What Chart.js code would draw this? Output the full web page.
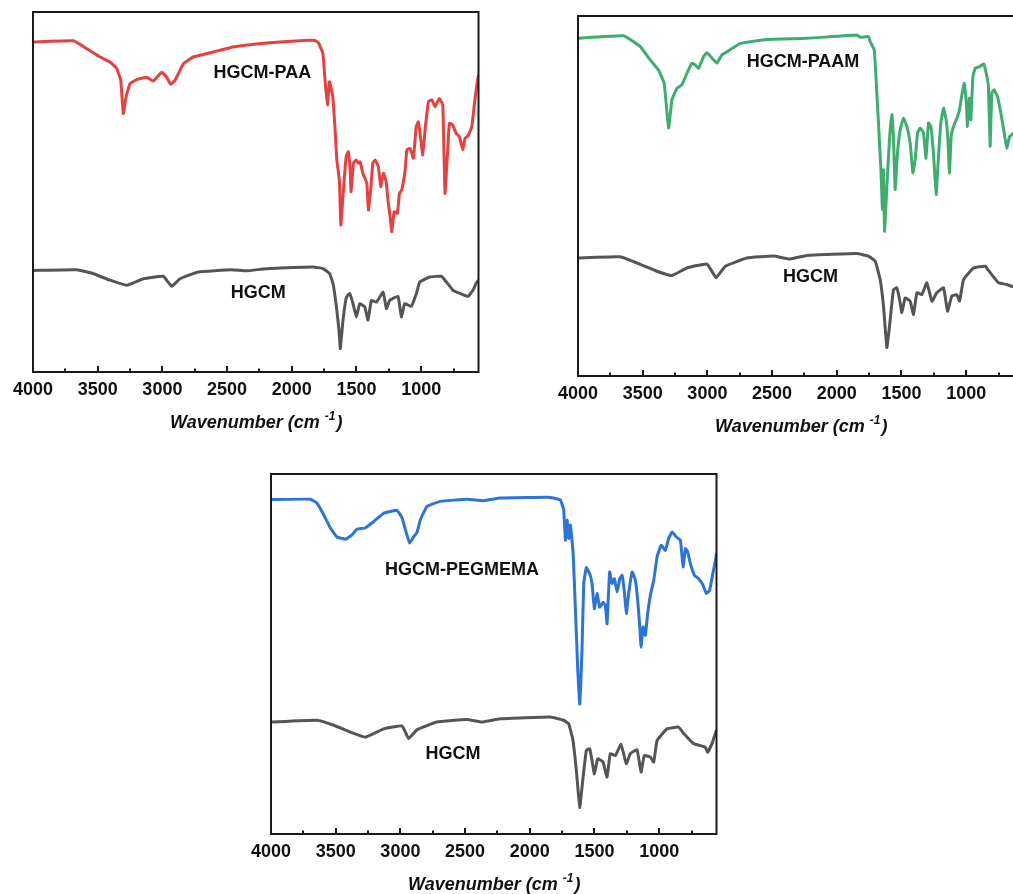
<!DOCTYPE html>
<html><head><meta charset="utf-8">
<script src="https://cdn.jsdelivr.net/npm/chart.js@4.4.0/dist/chart.umd.min.js"></script>
<style>
html,body{margin:0;padding:0;background:#fff;width:1013px;height:894px;overflow:hidden;position:relative;}
.p{position:absolute;width:500px;height:450px;}
</style></head><body>
<div class="p" style="left:0px;top:0px"><canvas id="c1" width="500" height="450"></canvas></div>
<div class="p" style="left:545px;top:4px"><canvas id="c2" width="500" height="450"></canvas></div>
<div class="p" style="left:238px;top:462px"><canvas id="c3" width="500" height="450"></canvas></div>
<script>
// x-axis tick labels (wavenumber, cm-1)
const xTicks = [4000, 3500, 3000, 2500, 2000, 1500, 1000];
const xMinor = [3750, 3250, 2750, 2250, 1750, 1250, 750];

// Panel 1: HGCM-PAA
const wnPAA = [4000,3687,3584,3482,3405,3353,3322,3302,3281,3250,3199,3122,3070,3006,2967,2936,2903,2838,2761,2607,2453,2195,1938,1822,1795,1760,1743,1725,1709,1696,1683,1665,1652,1632,1621,1601,1580,1563,1549,1542,1524,1503,1485,1472,1451,1420,1408,1390,1374,1356,1331,1312,1292,1271,1254,1240,1227,1209,1184,1168,1150,1124,1111,1086,1060,1039,1022,1009,988,970,944,918,893,860,833,816,798,782,756,730,705,679,661,635,609,591,570,557];
const tPAA  = [91.7,92.0,89.8,87.5,86.1,84.3,81.0,71.8,76.4,80.1,81.2,81.9,80.8,83.3,81.9,79.9,81.0,85.6,87.5,88.9,90.3,91.4,92.0,92.1,91.5,88.5,81.1,74.2,80.6,78.8,76.5,67.2,58.9,53.3,40.8,50.6,59.8,61.2,56.1,50.1,58.0,58.9,58.0,58.4,55.2,52.4,45.0,50.6,58.0,58.9,57.0,51.5,55.2,52.9,46.9,43.1,39.0,44.5,44.1,49.6,50.6,56.1,61.7,62.1,59.4,68.1,69.5,66.3,60.3,67.2,75.1,75.6,73.7,76.0,74.2,49.6,59.8,69.1,68.6,66.3,65.4,61.8,64.9,65.8,68.1,73.7,79.7,82.5];
const wnHGCM1 = [4000,3662,3533,3405,3276,3148,2993,2928,2864,2724,2467,2350,2196,1835,1758,1707,1681,1655,1635,1625,1604,1578,1552,1527,1501,1475,1436,1411,1385,1346,1294,1269,1243,1179,1153,1127,1076,1037,1011,934,844,805,754,703,638,600,574,557];
const tHGCM1  = [28.2,28.4,27.3,25.5,24.1,25.9,26.6,23.8,25.9,27.8,28.4,28.1,28.7,29.2,28.7,27.3,24.5,18.1,11.6,6.5,14.4,20.8,21.8,19.0,15.3,19.0,18.1,14.4,19.9,19.4,22.2,17.6,19.9,21.0,15.3,19.0,18.2,21.8,25.0,26.4,26.6,25.0,22.7,21.9,21.0,22.7,24.7,25.5];

// Panel 2: HGCM-PAAM
const wnPAAM = [4000,3648,3519,3442,3378,3334,3300,3274,3236,3197,3158,3120,3094,3068,3030,3004,2965,2927,2888,2824,2746,2540,2231,1845,1819,1755,1742,1711,1696,1678,1659,1647,1639,1631,1613,1593,1574,1562,1549,1531,1510,1485,1458,1433,1412,1394,1376,1355,1330,1311,1291,1273,1253,1232,1214,1196,1175,1155,1141,1129,1116,1098,1072,1052,1033,1015,1000,990,974,964,948,930,897,866,845,828,815,802,784,758,732,706,686,665,647,620,590,557];
const tPAAM  = [93.8,94.5,91.5,87.8,85.0,81.3,68.9,76.7,79.9,80.9,84.1,86.9,86.4,85.5,88.7,89.8,88.3,86.9,89.2,90.6,92.4,93.5,93.8,94.7,94.1,94.3,92.9,90.6,82.3,70.3,57.3,46.2,57.3,40.2,52.7,65.6,72.6,66.5,51.8,61.9,68.4,71.6,69.3,64.7,56.4,60.1,67.5,68.9,67.5,60.5,70.3,69.3,61.9,50.4,61.0,70.3,74.4,71.2,65.6,56.4,66.5,69.3,71.6,73.9,78.1,81.3,76.7,69.3,77.2,71.2,83.2,85.5,85.9,86.7,84.1,80.4,63.8,78.6,79.5,77.6,73.0,67.5,63.3,66.5,67.0,68.0,70.0,72.0];
const wnHGCM2 = [4000,3674,3519,3390,3275,3159,3004,2932,2862,2695,2489,2360,2232,1845,1755,1703,1665,1639,1613,1587,1562,1536,1515,1497,1472,1433,1407,1381,1343,1304,1265,1227,1175,1144,1111,1072,1051,1020,943,853,814,750,685,646,600,557];
const tHGCM2  = [32.8,33.1,31.0,29.1,27.9,30.0,31.1,27.3,30.5,32.8,33.3,32.5,33.5,34.0,33.3,31.9,26.8,19.4,7.9,15.7,24.0,24.5,21.3,17.6,21.7,20.8,17.1,23.1,22.6,25.9,20.8,23.1,24.5,18.0,22.2,22.6,20.8,26.8,30.0,30.5,28.7,25.9,25.4,24.9,25.0,27.0];

// Panel 3: HGCM-PEGMEMA
const wnPEG = [4000,3696,3644,3593,3541,3490,3425,3374,3335,3271,3206,3129,3026,2987,2954,2928,2897,2871,2846,2794,2691,2485,2356,2228,1842,1764,1738,1725,1712,1699,1686,1665,1648,1630,1614,1596,1583,1563,1537,1519,1501,1480,1460,1434,1416,1403,1383,1364,1346,1325,1305,1287,1269,1254,1236,1209,1184,1166,1150,1140,1124,1107,1089,1068,1042,1016,985,952,927,900,867,836,815,797,780,759,728,695,661,635,610,583,565,557];
const tPEG  = [92.9,93.0,91.9,88.7,85.0,82.5,81.9,83.1,84.7,85.0,86.8,89.1,89.9,87.8,83.6,80.8,82.6,83.8,87.3,91.0,92.4,93.0,92.6,93.3,93.5,92.8,90.0,81.6,87.2,82.1,85.8,77.9,63.0,46.3,36.1,51.9,69.6,74.0,72.3,69.6,62.6,66.8,63.0,64.4,63.5,58.4,72.8,69.6,70.9,67.2,70.9,71.9,67.2,61.2,66.8,72.8,70.5,64.9,57.5,51.9,57.5,55.2,61.2,66.3,70.5,77.0,80.2,78.8,82.1,83.9,82.5,81.6,74.2,79.3,78.4,75.1,71.9,70.9,69.1,66.8,67.7,72.8,76.0,78.0];
const wnHGCM3 = [4000,3644,3515,3386,3271,3129,2987,2936,2871,2717,2485,2369,2228,1842,1738,1699,1666,1640,1614,1588,1563,1537,1519,1501,1475,1434,1403,1378,1339,1295,1254,1223,1171,1140,1115,1068,1042,1016,939,849,810,733,643,625,592,566,557];
const tHGCM3  = [31.1,31.6,30.2,28.3,26.9,29.2,30.0,26.5,29.0,31.1,31.8,31.1,32.0,32.5,31.6,30.6,26.0,17.6,7.4,15.8,23.2,23.7,20.4,16.7,20.9,20.0,15.8,22.3,21.8,24.9,19.5,22.3,23.4,17.2,21.8,21.4,20.0,26.0,29.2,29.7,27.9,25.1,24.1,22.7,25.1,27.9,29.0];

const sampleNames = ['HGCM-PAA', 'HGCM-PAAM', 'HGCM-PEGMEMA'];
const baseName = 'HGCM';

const pts = (xs, ys) => xs.map((x, i) => ({x: x, y: ys[i]}));

const framePlugin = {
  id: 'frame',
  afterDatasetsDraw(chart, args, opts) {
    const ctx = chart.ctx, a = chart.chartArea, sx = chart.scales.x;
    ctx.save();
    ctx.strokeStyle = '#1a1a1a';
    ctx.lineWidth = 2;
    ctx.strokeRect(a.left, a.top, a.right - a.left, a.bottom - a.top);
    ctx.beginPath();
    xTicks.forEach(v => { const px = Math.round(sx.getPixelForValue(v)); ctx.moveTo(px, a.bottom); ctx.lineTo(px, a.bottom - 6); });
    xMinor.forEach(v => { const px = Math.round(sx.getPixelForValue(v)); ctx.moveTo(px, a.bottom); ctx.lineTo(px, a.bottom - 3.5); });
    ctx.stroke();
    // axis title
    const cx = (a.left + a.right) / 2, cy = a.bottom + 51;
    const f1 = 'italic bold 18px "Liberation Sans", Arial, sans-serif';
    const f2 = 'italic bold 12px "Liberation Sans", Arial, sans-serif';
    const s1 = 'Wavenumber (cm ', s2 = '-1', s3 = ')';
    ctx.font = f1; const w1 = ctx.measureText(s1).width, w3 = ctx.measureText(s3).width;
    ctx.font = f2; const w2 = ctx.measureText(s2).width;
    let x0 = cx - (w1 + w2 + w3) / 2;
    ctx.fillStyle = '#111'; ctx.textBaseline = 'middle'; ctx.textAlign = 'left';
    ctx.font = f1; ctx.fillText(s1, x0, cy);
    ctx.font = f2; ctx.fillText(s2, x0 + w1, cy - 6);
    ctx.font = f1; ctx.fillText(s3, x0 + w1 + w2 + 1, cy);
    // series labels
    const sy = chart.scales.y;
    ctx.font = 'bold 18px "Liberation Sans", Arial, sans-serif';
    ctx.textAlign = 'center';
    (opts.labels || []).forEach(l => {
      ctx.fillText(l.text, sx.getPixelForValue(l.x), sy.getPixelForValue(l.y));
    });
    ctx.restore();
  }
};

function makeChart(id, color, wnS, tS, wnB, tB, labels) {
  return new Chart(document.getElementById(id), {
    type: 'line',
    data: {
      datasets: [
        {data: pts(wnS, tS), borderColor: color, borderWidth: 3, pointRadius: 0, fill: false, tension: 0.1, borderJoinStyle: 'round'},
        {data: pts(wnB, tB), borderColor: '#555555', borderWidth: 3, pointRadius: 0, fill: false, tension: 0.1, borderJoinStyle: 'round'}
      ]
    },
    options: {
      responsive: false, animation: false, devicePixelRatio: 1,
      layout: {padding: {left: 33, top: 12, right: 21.5, bottom: 0}},
      plugins: {legend: {display: false}, tooltip: {enabled: false}, frame: {labels: labels}},
      scales: {
        x: {
          type: 'linear', min: 557, max: 4000, reverse: true,
          afterBuildTicks: s => { s.ticks = xTicks.map(v => ({value: v})); },
          afterFit: s => { s.height = 78; },
          grid: {display: false, drawTicks: false},
          border: {display: false},
          ticks: {color: '#111', padding: 7, maxRotation: 0, autoSkip: false,
                  font: {family: '"Liberation Sans", Arial, sans-serif', weight: 'bold', size: 18},
                  callback: v => String(v)}
        },
        y: {display: false, min: 0, max: 100}
      }
    },
    plugins: [framePlugin]
  });
}

makeChart('c1', '#e8403f', wnPAA, tPAA, wnHGCM1, tHGCM1,
  [{text: sampleNames[0], x: 2227, y: 83.1}, {text: baseName, x: 2260, y: 21.9}]);
makeChart('c2', '#3dae6e', wnPAAM, tPAAM, wnHGCM2, tHGCM2,
  [{text: sampleNames[1], x: 2261, y: 87.3}, {text: baseName, x: 2204, y: 27.6}]);
makeChart('c3', '#2b74d9', wnPEG, tPEG, wnHGCM3, tHGCM3,
  [{text: sampleNames[2], x: 2523, y: 73.3}, {text: baseName, x: 2594, y: 22.2}]);
</script>
</body></html>
